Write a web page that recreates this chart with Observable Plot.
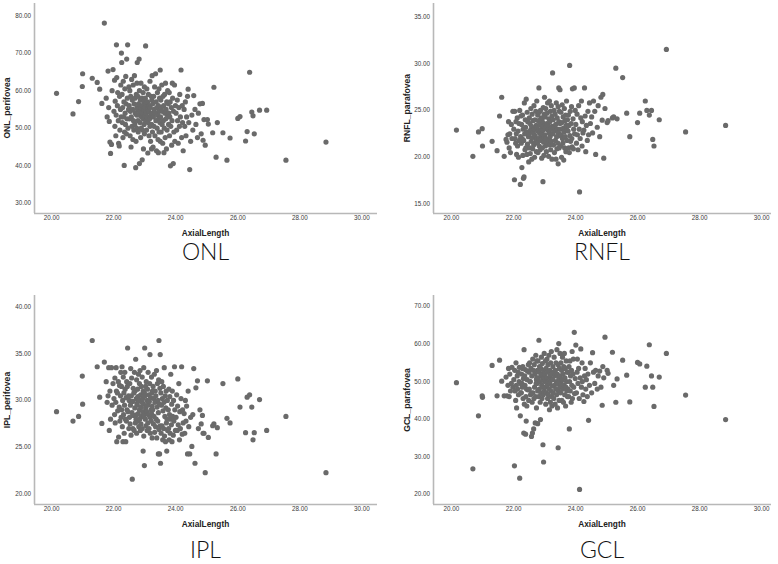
<!DOCTYPE html>
<html><head><meta charset="utf-8">
<script src="https://cdn.jsdelivr.net/npm/d3@7"></script>
<script src="https://cdn.jsdelivr.net/npm/@observablehq/plot@0.6"></script>
<style>
body{margin:0;background:#fff;}
#wrap{position:relative;width:778px;height:564px;overflow:hidden;font-family:"Liberation Sans",Arial,sans-serif;}
.panel{position:absolute;}
.xt{position:absolute;font-weight:bold;font-size:8.3px;line-height:10px;color:#222;transform:translate(-50%,-50%);white-space:nowrap;}
.yt{position:absolute;font-weight:bold;font-size:8.6px;line-height:10px;color:#222;transform:translate(-50%,-50%) rotate(-90deg);white-space:nowrap;}
.cap{position:absolute;font-family:Lato,"Liberation Sans",sans-serif;font-weight:300;font-size:23px;line-height:20px;color:#111;transform:translate(-50%,-50%);white-space:nowrap;}
</style></head>
<body><div id="wrap"></div>
<script>
// Axial length of each eye (shared by all four panels)
const axialLength = [
  20.16, 20.69, 20.87, 20.99, 21.00, 21.31, 21.47, 21.55, 21.62, 21.70,
  21.76, 21.79, 21.82, 21.84, 21.86, 21.88, 21.90, 21.93, 21.95, 21.98,
  22.01, 22.03, 22.04, 22.05, 22.07, 22.08, 22.09, 22.10, 22.12, 22.13, 22.15, 22.16, 22.18, 22.19, 22.20, 22.22, 22.23, 22.24,
  22.25, 22.26, 22.27, 22.28, 22.29, 22.30, 22.31, 22.32, 22.33, 22.34, 22.35, 22.36, 22.37, 22.38, 22.39, 22.40, 22.41, 22.42, 22.43, 22.44, 22.45, 22.46, 22.48, 22.49,
  22.50, 22.51, 22.52, 22.53, 22.54, 22.55, 22.56, 22.57, 22.58, 22.59, 22.60, 22.61, 22.62, 22.63, 22.64, 22.65, 22.66, 22.67, 22.68, 22.69, 22.70, 22.71, 22.72, 22.73, 22.74, 22.74, 22.75, 22.75,
  22.76, 22.77, 22.78, 22.78, 22.79, 22.80, 22.81, 22.82, 22.83, 22.83, 22.84, 22.85, 22.86, 22.87, 22.88, 22.88, 22.89, 22.90, 22.91, 22.92, 22.92, 22.93, 22.94, 22.95, 22.95, 22.96, 22.97, 22.97, 22.98, 22.99, 22.99, 23.00,
  23.01, 23.02, 23.03, 23.03, 23.04, 23.05, 23.06, 23.07, 23.08, 23.09, 23.10, 23.10, 23.11, 23.12, 23.13, 23.14, 23.15, 23.16, 23.17, 23.17, 23.18, 23.19, 23.20, 23.21, 23.22, 23.22, 23.23, 23.24, 23.24, 23.25,
  23.26, 23.27, 23.28, 23.29, 23.30, 23.31, 23.32, 23.33, 23.34, 23.35, 23.36, 23.37, 23.38, 23.39, 23.40, 23.41, 23.42, 23.43, 23.44, 23.44, 23.45, 23.46, 23.46, 23.47, 23.48, 23.49, 23.50, 23.50,
  23.51, 23.52, 23.53, 23.54, 23.55, 23.56, 23.57, 23.58, 23.59, 23.60, 23.61, 23.62, 23.63, 23.64, 23.65, 23.66, 23.67, 23.68, 23.69, 23.70, 23.71, 23.72, 23.73, 23.74,
  23.76, 23.77, 23.78, 23.79, 23.80, 23.81, 23.82, 23.83, 23.84, 23.86, 23.87, 23.88, 23.89, 23.90, 23.92, 23.93, 23.94, 23.96, 23.97, 23.99,
  24.01, 24.03, 24.05, 24.06, 24.08, 24.10, 24.12, 24.13, 24.15, 24.17, 24.19, 24.21, 24.22, 24.24,
  24.27, 24.29, 24.31, 24.33, 24.35, 24.38, 24.40, 24.42, 24.45, 24.48,
  24.52, 24.55, 24.58, 24.62, 24.65, 24.70, 24.73,
  24.78, 24.82, 24.86, 24.88, 24.91, 24.95,
  25.02, 25.05, 25.19, 25.23, 25.30, 25.34, 25.52, 25.65, 25.75, 26.00, 26.07, 26.25, 26.30, 26.38, 26.45, 26.49, 26.53, 26.70, 26.93, 27.55, 28.84
];

const onlPerifovea = [
  59.3, 53.8, 57.1, 61.1, 64.5, 63.3, 62.2, 60.4, 56.6, 78.0,
  58.0, 53.0, 65.2, 55.5, 51.8, 46.3, 43.3, 45.7, 60.0, 65.6,
  54.5, 62.8, 50.5, 57.2, 48.0, 53.5, 72.2, 63.5, 56.0, 59.5, 52.0, 46.0, 45.3, 58.5, 49.5, 55.0, 61.5, 53.0,
  70.0, 67.5, 59.0, 51.5, 55.5, 47.5, 62.5, 53.0, 57.0, 40.1, 49.0, 60.5, 54.0, 51.0, 63.8, 56.5, 48.5, 68.4, 52.5, 58.0, 72.2, 50.0, 55.0, 61.0,
  56.0, 52.5, 60.0, 48.0, 54.5, 58.5, 45.0, 53.0, 63.0, 50.5, 57.5, 55.0, 47.0, 61.5, 52.0, 49.5, 56.5, 64.0, 51.0, 58.0, 54.0, 39.5, 46.5, 59.0, 53.5, 50.0, 62.0, 55.5,
  67.5, 55.0, 52.0, 58.5, 49.0, 56.5, 53.5, 68.4, 40.6, 60.0, 54.5, 51.5, 57.5, 47.5, 55.5, 62.0, 50.0, 53.0, 58.0, 41.6, 56.0, 49.5, 54.0, 59.5, 52.5, 44.5, 57.0, 55.0, 51.0, 61.0, 48.5, 53.5,
  55.5, 58.0, 71.9, 52.0, 56.5, 54.0, 49.5, 60.5, 53.0, 57.0, 43.4, 55.0, 51.5, 59.0, 54.5, 48.0, 56.0, 52.5, 62.5, 50.5, 55.5, 46.5, 53.5, 58.5, 44.5, 51.0, 57.5, 54.0, 64.0, 49.0,
  56.5, 45.0, 53.0, 58.5, 50.5, 55.0, 61.0, 48.0, 54.0, 64.5, 52.0, 57.0, 44.0, 55.5, 50.0, 59.5, 53.5, 47.0, 56.0, 43.5, 52.5, 60.5, 49.0, 54.5, 58.0, 51.5, 65.5, 46.5,
  53.0, 57.5, 49.0, 55.5, 61.5, 51.0, 54.5, 46.0, 58.5, 52.0, 56.0, 43.5, 50.0, 59.0, 54.0, 47.5, 62.0, 52.5, 55.0, 44.5, 57.0, 49.5, 53.5, 60.0,
  56.5, 51.0, 54.0, 59.5, 48.0, 53.0, 57.0, 40.0, 50.5, 55.5, 45.5, 52.0, 62.0, 58.0, 40.6, 54.5, 49.0, 61.5, 46.5, 56.0,
  54.0, 49.5, 57.5, 52.0, 46.0, 55.5, 50.5, 59.0, 53.0, 65.5, 47.5, 56.0, 51.5, 44.0,
  55.0, 50.5, 57.0, 48.0, 53.0, 58.5, 60.4, 51.5, 39.0, 46.5,
  53.5, 49.5, 58.7, 55.0, 51.0, 47.5, 54.0,
  56.5, 48.5, 56.6, 46.8, 52.3, 45.5,
  52.3, 51.1, 48.8, 60.9, 42.3, 51.5, 48.8, 41.5, 47.4, 52.6, 53.1, 46.6, 49.1, 64.9, 54.3, 53.3, 48.5, 54.8, 54.8, 41.5, 46.3
];

const rnflParafovea = [
  22.9, 20.1, 22.7, 23.05, 21.2, 21.7, 20.7, 24.4, 26.4, 20.1,
  21.9, 21.6, 22.4, 23.8, 21.0, 22.5, 20.5, 23.5, 22.0, 24.9,
  23.0, 17.6, 24.9, 22.0, 21.5, 23.8, 22.5, 20.3, 24.2, 21.2, 22.8, 20.0, 23.6, 21.8, 25.0, 17.1, 22.2, 24.4,
  21.5, 23.5, 18.9, 22.0, 24.5, 20.2, 23.0, 17.75, 21.8, 17.9, 25.8, 22.5, 20.8, 24.0, 23.2, 21.0, 26.2, 22.7, 20.3, 24.8, 21.4, 23.8, 22.2, 19.5,
  22.5, 24.2, 21.0, 23.6, 20.4, 22.9, 25.2, 21.7, 23.3, 19.8, 24.6, 22.1, 20.9, 23.9, 22.6, 21.3, 25.5, 23.0, 20.0, 24.0, 22.3, 21.6, 24.9, 23.4, 20.6, 22.0, 26.0, 21.9,
  23.2, 21.5, 24.5, 22.8, 20.5, 23.9, 22.0, 27.4, 21.2, 24.8, 22.6, 23.5, 20.8, 25.0, 22.3, 21.8, 24.2, 23.0, 19.9, 22.5, 24.0, 21.0, 23.7, 17.4, 22.9, 25.3, 21.6, 23.3, 20.2, 24.6, 22.1, 26.4,
  22.4, 24.3, 21.2, 23.1, 25.2, 22.0, 20.6, 23.6, 24.7, 21.5, 22.9, 25.8, 21.9, 23.4, 20.1, 24.1, 22.6, 26.0, 21.3, 23.8, 22.2, 24.9, 20.8, 23.0, 25.5, 21.7, 22.5, 24.4, 19.8, 23.3,
  29.0, 22.5, 24.0, 21.3, 23.2, 25.0, 20.5, 22.8, 24.6, 21.8, 23.5, 19.8, 25.8, 22.2, 20.9, 24.2, 23.0, 21.5, 19.3, 25.4, 22.6, 27.4, 23.8, 21.0, 24.9, 22.3, 27.2, 23.6,
  23.0, 21.2, 24.8, 22.4, 20.0, 23.7, 25.6, 22.0, 21.5, 24.3, 23.1, 19.7, 22.7, 25.2, 21.0, 23.9, 22.2, 24.5, 20.6, 23.4, 26.0, 21.8, 22.9, 24.0,
  22.8, 24.5, 21.0, 23.4, 20.5, 29.8, 22.3, 24.9, 21.7, 23.6, 25.4, 22.0, 21.1, 27.3, 24.1, 20.9, 23.0, 27.4, 22.5, 25.0,
  23.5, 21.5, 24.6, 22.4, 20.8, 25.5, 23.0, 16.3, 22.0, 24.2, 26.0, 21.2, 23.8, 22.6,
  22.9, 27.4, 24.4, 20.6, 23.4, 21.8, 24.9, 22.4, 25.8, 23.6,
  24.3, 22.6, 26.0, 24.9, 20.3, 23.2, 25.5,
  22.2, 26.4, 23.95, 26.7, 19.9, 25.2,
  23.7, 23.9, 24.2, 24.3, 29.5, 24.1, 28.5, 24.7, 22.2, 23.7, 24.7, 26.0, 25.0, 24.5, 25.0, 21.9, 21.2, 24.0, 31.5, 22.7, 23.4
];

const iplPerifovea = [
  28.8, 27.8, 28.3, 32.6, 29.6, 36.4, 33.6, 30.35, 27.55, 34.1,
  32.0, 29.8, 30.5, 33.5, 26.8, 31.0, 28.0, 33.5, 29.5, 31.8,
  30.2, 28.5, 32.4, 27.6, 29.8, 33.5, 31.0, 25.6, 30.8, 28.9, 32.0, 26.1, 29.3, 31.6, 27.8, 30.5, 33.0, 28.2,
  31.5, 29.0, 33.6, 27.2, 30.0, 25.6, 32.5, 28.5, 30.8, 26.5, 29.5, 33.0, 31.2, 28.0, 25.6, 30.3, 27.8, 32.0, 29.0, 31.5, 35.6, 28.8, 30.5, 27.0,
  30.0, 28.2, 31.8, 27.5, 29.5, 33.4, 26.3, 30.5, 32.4, 28.7, 21.6, 29.9, 27.0, 31.3, 28.4, 30.8, 26.8, 33.0, 29.2, 31.0, 27.6, 34.4, 28.0, 30.2, 26.5, 32.2, 29.7, 28.5,
  29.5, 31.2, 27.8, 30.4, 28.6, 32.8, 27.2, 30.0, 29.0, 31.8, 28.0, 33.2, 26.8, 30.6, 29.3, 27.5, 31.5, 28.3, 29.8, 32.5, 27.0, 30.2, 28.8, 24.6, 31.0, 29.6, 26.2, 33.5, 28.4, 23.05, 30.8, 35.6,
  30.5, 28.0, 31.5, 29.2, 27.3, 32.0, 28.8, 30.0, 26.8, 31.2, 29.5, 27.6, 33.0, 28.5, 30.6, 27.0, 29.9, 31.8, 28.2, 34.9, 26.5, 30.3, 29.0, 27.8, 32.5, 28.6, 30.8, 26.0, 29.4, 31.0,
  29.0, 31.5, 27.5, 30.2, 28.3, 32.8, 26.6, 29.8, 31.0, 27.2, 30.5, 28.0, 33.2, 26.0, 29.3, 31.8, 27.8, 30.0, 24.3, 28.7, 32.2, 26.9, 36.4, 29.6, 24.3, 31.3, 34.9, 27.3,
  23.3, 30.8, 26.5, 29.5, 32.0, 27.3, 30.2, 25.8, 28.9, 31.5, 27.0, 29.8, 33.5, 26.2, 28.3, 30.5, 25.6, 29.2, 31.0, 27.6, 24.6, 28.0, 30.0, 26.8,
  29.0, 27.0, 31.2, 25.8, 28.5, 30.4, 26.5, 28.0, 32.8, 27.4, 29.6, 25.6, 31.0, 28.3, 26.3, 30.0, 27.8, 33.6, 29.0, 26.8,
  28.2, 30.6, 26.8, 29.4, 27.4, 31.8, 25.8, 28.8, 27.0, 30.2, 33.6, 26.4, 29.0, 27.6,
  28.6, 26.5, 30.0, 27.8, 29.4, 24.3, 31.0, 27.2, 24.3, 28.2,
  25.1, 28.5, 33.4, 23.3, 31.35, 32.1, 27.0,
  29.0, 27.5, 28.4, 26.5, 26.5, 22.3,
  32.1, 26.06, 27.3, 27.5, 24.3, 27.1, 31.8, 28.1, 27.6, 32.3, 29.3, 26.56, 30.35, 30.6, 29.3, 25.8, 26.56, 30.1, 26.8, 28.3, 22.3
];

const gclParafovea = [
  49.7, 26.8, 40.9, 46.2, 45.8, 54.3, 46.2, 55.7, 50.1, 46.2,
  51.2, 46.2, 49.0, 53.5, 46.0, 52.0, 47.5, 49.5, 53.8, 48.5,
  50.5, 27.6, 53.0, 47.5, 45.0, 55.0, 49.0, 43.0, 51.5, 48.0, 52.5, 46.5, 50.0, 53.8, 24.3, 40.9, 49.5, 47.0,
  47.0, 52.0, 49.5, 48.5, 53.5, 54.0, 45.5, 50.8, 36.3, 58.5, 44.0, 51.5, 49.0, 53.2, 36.0, 46.0, 39.5, 48.0, 43.5, 50.5, 52.8, 47.8, 54.5, 45.0,
  52.5, 48.0, 55.0, 50.0, 50.0, 46.5, 53.5, 47.0, 35.4, 51.5, 44.5, 36.3, 56.0, 47.0, 53.0, 37.4, 45.5, 54.5, 48.5, 52.0, 39.0, 46.0, 57.0, 49.5, 43.0, 50.5, 51.0, 55.5,
  49.5, 53.0, 38.8, 47.5, 55.5, 51.0, 46.0, 61.0, 52.5, 48.0, 54.0, 50.0, 44.5, 39.9, 53.5, 47.0, 51.5, 56.5, 49.0, 45.5, 52.0, 54.8, 48.5, 33.2, 50.5, 46.5, 53.0, 28.6, 51.0, 57.5, 47.5, 50.0,
  52.0, 48.5, 55.5, 50.5, 44.0, 53.5, 47.0, 51.0, 56.0, 49.0, 45.5, 52.5, 54.5, 46.5, 50.0, 57.0, 48.0, 42.5, 53.0, 49.5, 51.5, 44.5, 55.0, 47.5, 50.5, 58.0, 46.0, 52.0, 43.5, 48.8,
  50.5, 54.0, 47.0, 52.5, 45.5, 56.5, 49.0, 51.5, 44.0, 53.0, 48.0, 55.0, 50.0, 46.5, 58.5, 52.0, 43.0, 49.5, 32.4, 54.5, 47.5, 60.1, 51.0, 45.0, 53.5, 48.5, 57.5, 50.0,
  51.5, 47.0, 55.0, 49.5, 53.0, 45.0, 50.5, 56.5, 48.0, 52.0, 44.5, 54.0, 49.0, 57.5, 46.5, 51.0, 53.5, 43.5, 48.5, 55.5, 50.0, 47.5, 52.5, 46.0,
  48.0, 52.5, 46.0, 54.0, 37.4, 50.0, 55.5, 47.5, 51.5, 44.5, 53.0, 49.0, 58.0, 45.5, 52.0, 56.0, 48.5, 63.1, 46.8, 50.8,
  59.7, 47.0, 52.5, 56.0, 49.5, 53.5, 45.5, 21.3, 51.0, 58.7, 48.5, 55.0, 50.0, 46.5,
  44.7, 51.5, 53.5, 48.0, 50.5, 46.0, 52.0, 39.7, 49.0, 55.0,
  47.0, 57.7, 52.5, 49.5, 53.0, 48.0, 51.5,
  52.8, 48.5, 43.7, 54.0, 51.0, 61.8,
  53.0, 52.2, 57.8, 49.0, 44.5, 50.7, 55.7, 51.7, 44.6, 55.1, 54.7, 48.5, 54.1, 59.8, 51.5, 48.5, 43.4, 51.2, 57.5, 46.4, 39.9
];

// Tick labels
const xTicks = [20, 22, 24, 26, 28, 30];
const onlTicks = [30, 40, 50, 60, 70, 80];
const rnflTicks = [15, 20, 25, 30, 35];
const iplTicks = [20, 25, 30, 35, 40];
const gclTicks = [20, 30, 40, 50, 60, 70];
const xTitle = "AxialLength";
const yTitles = ["ONL_perifovea", "RNFL_parafovea", "IPL_perifovea", "GCL_parafovea"];
const captions = ["ONL", "RNFL", "IPL", "GCL"];

for (const arr of [onlPerifovea, rnflParafovea, iplPerifovea, gclParafovea]) {
  if (arr.length !== axialLength.length) throw new Error("length mismatch " + arr.length + " vs " + axialLength.length);
}

const fmt = d3.format(".2f");
const wrap = document.getElementById("wrap");

const panels = [
  {values: onlPerifovea, ticks: onlTicks, ydom: [27.3, 83.2], xdom: [19.45, 30.5],
   left: 0, top: 0, width: 390, height: 240, mt: 3, mb: 27, ml: 34, mr: 13, capY: 251},
  {values: rnflParafovea, ticks: rnflTicks, ydom: [14.0, 36.4], xdom: [19.42, 30.32],
   left: 400, top: 0, width: 378, height: 240, mt: 3, mb: 27, ml: 33, mr: 7, capY: 251},
  {values: iplPerifovea, ticks: iplTicks, ydom: [18.9, 41.2], xdom: [19.45, 30.5],
   left: 0, top: 280, width: 390, height: 250, mt: 15, mb: 26, ml: 34, mr: 13, capY: 549},
  {values: gclParafovea, ticks: gclTicks, ydom: [17.3, 72.9], xdom: [19.42, 30.32],
   left: 400, top: 280, width: 378, height: 250, mt: 15, mb: 26, ml: 33, mr: 7, capY: 549}
];

panels.forEach((p, i) => {
  const data = axialLength.map((x, k) => ({x, y: p.values[k]}));
  const chart = Plot.plot({
    width: p.width, height: p.height,
    marginTop: p.mt, marginBottom: p.mb, marginLeft: p.ml, marginRight: p.mr,
    style: {fontFamily: '"Liberation Sans", Arial, sans-serif', fontSize: "6.3px", color: "#3a3a3a", background: "transparent"},
    x: {domain: p.xdom, ticks: xTicks, tickFormat: fmt, tickSize: 0, tickPadding: 2.5, label: null},
    y: {domain: p.ydom, ticks: p.ticks, tickFormat: fmt, tickSize: 0, tickPadding: 3.5, label: null},
    marks: [
      Plot.ruleX([p.xdom[0]], {stroke: "#b8b8b8", strokeWidth: 1.6}),
      Plot.ruleY([p.ydom[0]], {stroke: "#b8b8b8", strokeWidth: 1.6}),
      Plot.dot(data, {x: "x", y: "y", r: 2.6, fill: "#6a6a6a", stroke: "none"})
    ]
  });
  chart.classList.add("panel");
  chart.style.left = p.left + "px";
  chart.style.top = p.top + "px";
  wrap.appendChild(chart);

  const plotLeft = p.left + p.ml, plotRight = p.left + p.width - p.mr;
  const plotTop = p.top + p.mt, plotBottom = p.top + p.height - p.mb;
  const cx = (plotLeft + plotRight) / 2;

  const xt = document.createElement("div");
  xt.className = "xt"; xt.textContent = xTitle;
  xt.style.left = cx + "px"; xt.style.top = (plotBottom + 20) + "px";
  wrap.appendChild(xt);

  const yt = document.createElement("div");
  yt.className = "yt"; yt.textContent = yTitles[i];
  yt.style.left = (p.left + 6.5) + "px"; yt.style.top = ((plotTop + plotBottom) / 2) + "px";
  wrap.appendChild(yt);

  const cap = document.createElement("div");
  cap.className = "cap"; cap.textContent = captions[i];
  cap.style.left = cx + "px"; cap.style.top = p.capY + "px";
  wrap.appendChild(cap);
});
</script>
</body></html>
